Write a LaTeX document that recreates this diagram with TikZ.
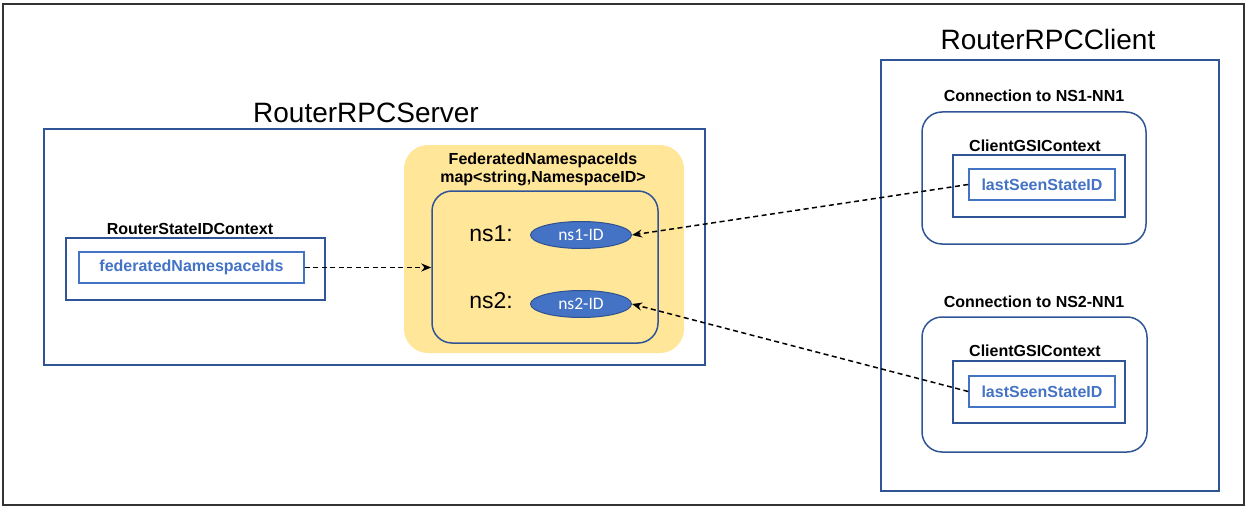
\documentclass[tikz,border=0pt]{standalone}
\usepackage{fontspec}
\setmainfont{Liberation Sans}
\newfontfamily\calfont{Carlito}
\usetikzlibrary{arrows.meta,shapes.geometric}
\definecolor{frameblue}{HTML}{2F5597}
\definecolor{fieldblue}{HTML}{4472C4}
\definecolor{mapyellow}{HTML}{FFE699}
\definecolor{ellborder}{HTML}{2F528F}

\begin{document}
\begin{tikzpicture}[x=1pt,y=-1pt,
  every node/.style={inner sep=0pt},
  container/.style={draw=frameblue, line width=1.5pt},
  roundbox/.style={container, rounded corners=20pt},
  field/.style={draw=fieldblue, line width=1.5pt, text=fieldblue,
    font=\fontsize{16}{19}\selectfont\bfseries},
  caption/.style={font=\fontsize{16}{19}\selectfont\bfseries},
  bigtitle/.style={font=\fontsize{28}{32}\selectfont},
  keylabel/.style={font=\fontsize{23}{26}\selectfont},
  idnode/.style={ellipse, draw=ellborder, line width=1pt, fill=fieldblue,
    text=white, minimum width=101pt, minimum height=27pt,
    font=\calfont\fontsize{17.5}{20}\selectfont},
  link/.style={draw=black, line width=1.5pt, dash pattern=on 5pt off 3.5pt,
    -{Stealth[length=10pt,width=8pt]}}
]
\useasboundingbox (0,0) rectangle (1247,508);
\draw[line width=2.2pt, draw=black!80] (3,4) rectangle (1244,505);

% ---- server side ----
\node[bigtitle] (srvtitle) at (366,113) {RouterRPCServer};
\node[container, minimum width=661pt, minimum height=236pt] (server) at (374.5,247) {};

\node[caption] (ctxlabel) at (190,229) {RouterStateIDContext};
\node[container, minimum width=259pt, minimum height=62pt] (ctx) at (195.5,269) {};
\node[field, minimum width=225pt, minimum height=31pt] (fedids) at (191.5,267.5) {federatedNamespaceIds};

\node[fill=mapyellow, rounded corners=24pt, minimum width=280pt, minimum height=208pt] (mapbg) at (544,249) {};
\node[caption, align=center, font=\fontsize{16}{18}\selectfont\bfseries] (maplabel) at (543,169)
  {FederatedNamespaceIds\\map<string,NamespaceID>};
\node[roundbox, minimum width=226pt, minimum height=152pt] (map) at (545,267) {};

\node[keylabel] (ns1) at (491,234) {ns1:};
\node[keylabel] (ns2) at (491,301) {ns2:};
\node[idnode] (ns1id) at (581,235) {ns1-ID};
\node[idnode] (ns2id) at (581,304) {ns2-ID};

% ---- client side ----
\node[bigtitle] (clititle) at (1048,39) {RouterRPCClient};
\node[container, minimum width=338pt, minimum height=431pt] (client) at (1050,275.5) {};

\node[caption] (conn1label) at (1034,96) {Connection to NS1-NN1};
\node[roundbox, minimum width=224pt, minimum height=132pt] (conn1) at (1034,178) {};
\node[caption] (gsi1label) at (1035,146) {ClientGSIContext};
\node[container, minimum width=172pt, minimum height=62pt] (gsi1) at (1039,186) {};
\node[field, minimum width=146pt, minimum height=31pt] (seen1) at (1042,184.5) {lastSeenStateID};

\node[caption] (conn2label) at (1034,302) {Connection to NS2-NN1};
\node[roundbox, minimum width=225pt, minimum height=135pt] (conn2) at (1034.5,384.5) {};
\node[caption] (gsi2label) at (1035,351) {ClientGSIContext};
\node[container, minimum width=172pt, minimum height=62pt] (gsi2) at (1039,392) {};
\node[field, minimum width=146pt, minimum height=31pt] (seen2) at (1042,391.5) {lastSeenStateID};

% ---- references ----
\draw[link] (fedids.east) -- (map.west |- fedids.east);
\draw[link] (seen1.west) -- (ns1id.east);
\draw[link] (seen2.west) -- (ns2id.east);
\end{tikzpicture}
\end{document}
